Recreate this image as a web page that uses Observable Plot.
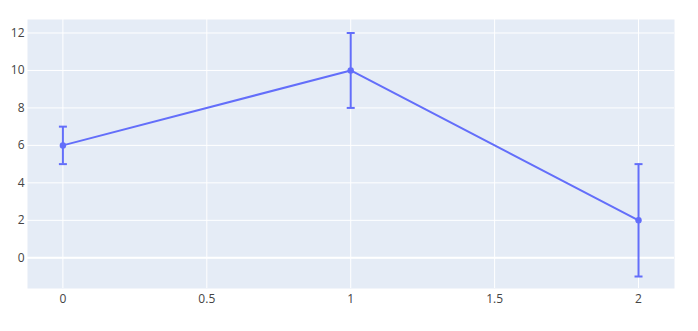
<!DOCTYPE html>
<html><head><meta charset="utf-8">
<script src="https://cdn.jsdelivr.net/npm/d3@7"></script>
<script src="https://cdn.jsdelivr.net/npm/@observablehq/plot@0.6"></script>
<style>html,body{margin:0;padding:0;background:#fff;}</style>
</head><body><div id="chart"></div>
<script>
const xs = [0, 1, 2];
const ys = [6, 10, 2];
const errs = [1, 2, 3];
const xTicks = [0, 0.5, 1, 1.5, 2];
const yTicks = [0, 2, 4, 6, 8, 10, 12];

const data = xs.map((x, i) => ({x, y: ys[i], lo: ys[i] - errs[i], hi: ys[i] + errs[i]}));
const caps = data.flatMap(d => [{x: d.x, y: d.lo}, {x: d.x, y: d.hi}]);
const color = "#636efa";
const capSymbol = {draw(ctx, size) { const w = 4; ctx.moveTo(-w, 0); ctx.lineTo(w, 0); }};

const chart = Plot.plot({
  width: 698, height: 331,
  marginLeft: 27, marginRight: 24, marginTop: 19, marginBottom: 43,
  style: {fontFamily: "'Open Sans', sans-serif", fontSize: "12px", color: "#444", background: "#fff"},
  x: {domain: [-0.123, 2.125], ticks: xTicks, tickFormat: d => String(d), tickSize: 0, tickPadding: 6, label: null},
  y: {domain: [-1.64, 12.72], ticks: yTicks, tickFormat: d => String(d), tickSize: 0, tickPadding: 3, label: null},
  marks: [
    Plot.frame({fill: "#E5ECF6", stroke: null}),
    Plot.gridX(xTicks, {stroke: "#fff", strokeOpacity: 1, strokeWidth: 1}),
    Plot.gridY(yTicks, {stroke: "#fff", strokeOpacity: 1, strokeWidth: 1}),
    Plot.ruleY([0], {stroke: "#fff", strokeWidth: 2}),
    Plot.line(data, {x: "x", y: "y", stroke: color, strokeWidth: 2}),
    Plot.ruleX(data, {x: "x", y1: "lo", y2: "hi", stroke: color, strokeWidth: 2}),
    Plot.dot(caps, {x: "x", y: "y", symbol: capSymbol, stroke: color, strokeWidth: 2, r: 4}),
    Plot.dot(data, {x: "x", y: "y", fill: color, r: 3.2}),
    Plot.axisX({ticks: xTicks, tickSize: 0, tickPadding: 6, tickFormat: d => String(d), label: null, fill: "#444"}),
    Plot.axisY({ticks: yTicks, tickSize: 0, tickPadding: 3, tickFormat: d => String(d), label: null, fill: "#444"})
  ]
});
document.getElementById("chart").appendChild(chart);
</script></body></html>
